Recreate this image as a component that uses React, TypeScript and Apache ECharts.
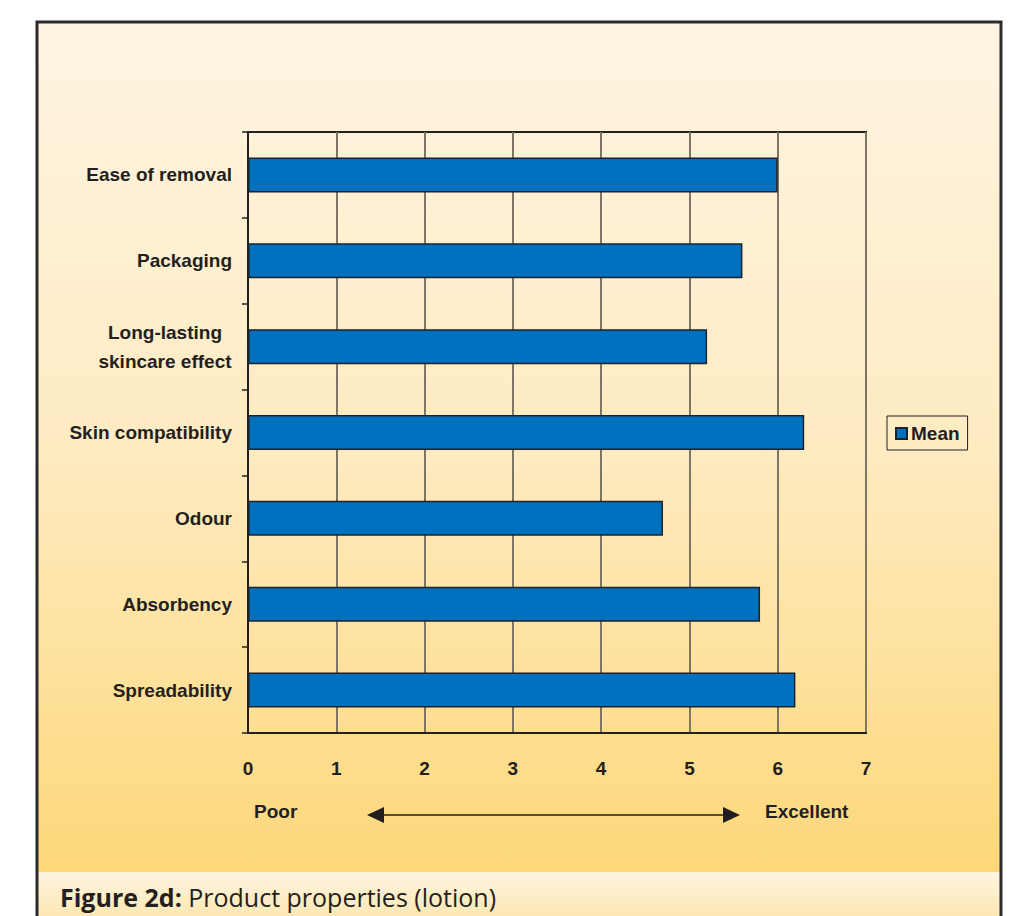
import React, { useEffect, useRef } from "react";
import * as echarts from "echarts";

const categories = [
  "Ease of removal",
  "Packaging",
  "Long-lasting\nskincare effect",
  "Skin compatibility",
  "Odour",
  "Absorbency",
  "Spreadability",
];
const meanValues = [6.0, 5.6, 5.2, 6.3, 4.7, 5.8, 6.2];
const xTicks = [0, 1, 2, 3, 4, 5, 6, 7];
const seriesName = "Mean";
const scaleLow = "Poor";
const scaleHigh = "Excellent";
const captionBold = "Figure 2d:";
const captionText = " Product properties (lotion)";

const FONT = "'Liberation Sans', Arial, sans-serif";
const INK = "#231f20";
const FS = 19;

export default function App() {
  const ref = useRef<HTMLDivElement>(null);
  useEffect(() => {
    if (!ref.current) return;
    const chart = echarts.init(ref.current, null, { renderer: "svg" });
    const option: any = {
      animation: false,
      textStyle: { fontFamily: FONT },
      graphic: [
        {
          type: "rect",
          z: -10,
          silent: true,
          shape: { x: 37, y: 22, width: 964, height: 850 },
          style: {
            fill: new echarts.graphic.LinearGradient(0, 0, 0, 1, [
              { offset: 0, color: "#fef4e2" },
              { offset: 0.5, color: "#feebc2" },
              { offset: 1, color: "#fdd87a" },
            ]),
          },
        },
        {
          type: "rect",
          z: -10,
          silent: true,
          shape: { x: 37, y: 872, width: 964, height: 60 },
          style: {
            fill: new echarts.graphic.LinearGradient(0, 0, 0, 1, [
              { offset: 0, color: "#fef4e0" },
              { offset: 1, color: "#fde3a4" },
            ]),
          },
        },
        {
          type: "rect",
          z: 50,
          silent: true,
          shape: { x: 37, y: 22, width: 964, height: 920 },
          style: { fill: "none", stroke: "#2b2b2b", lineWidth: 3 },
        },
        {
          type: "text",
          left: 254,
          top: 802,
          style: { text: scaleLow, font: `bold ${FS}px ${FONT}`, fill: INK },
        },
        {
          type: "text",
          left: 765,
          top: 802,
          style: { text: scaleHigh, font: `bold ${FS}px ${FONT}`, fill: INK },
        },
        {
          type: "line",
          shape: { x1: 380, y1: 815, x2: 727, y2: 815 },
          style: { stroke: INK, lineWidth: 1.5 },
        },
        {
          type: "polygon",
          shape: { points: [[367, 815], [384, 807], [384, 823]] },
          style: { fill: INK },
        },
        {
          type: "polygon",
          shape: { points: [[740, 815], [723, 807], [723, 823]] },
          style: { fill: INK },
        },
        {
          type: "text",
          left: 60,
          top: 884,
          style: {
            text: "{b|" + captionBold + "}{r|" + captionText + "}",
            rich: {
              b: { font: "bold 25px 'Open Sans', 'Noto Sans', sans-serif", fill: INK },
              r: { font: "25px 'Open Sans', 'Noto Sans', sans-serif", fill: INK },
            },
          },
        },
      ],
      grid: {
        left: 248,
        top: 132,
        width: 618,
        height: 601,
        show: true,
        backgroundColor: "transparent",
        borderColor: INK,
        borderWidth: 2,
      },
      legend: {
        left: 887,
        top: 416,
        orient: "vertical",
        data: [seriesName],
        icon: "rect",
        itemWidth: 11,
        itemHeight: 11,
        itemGap: 0,
        padding: [7, 8, 6, 8],
        borderColor: INK,
        borderWidth: 1,
        borderRadius: 0,
        textStyle: {
          fontFamily: FONT,
          fontWeight: "bold",
          fontSize: FS,
          color: INK,
          lineHeight: 21,
          padding: [0, 0, 0, -1],
        },
      },
      xAxis: {
        type: "value",
        min: 0,
        max: 7,
        interval: 1,
        axisLine: { show: true, lineStyle: { color: INK, width: 2 } },
        axisTick: { show: false },
        axisLabel: {
          margin: 26,
          fontFamily: FONT,
          fontWeight: "bold",
          fontSize: FS,
          color: INK,
          formatter: (v: number) => (xTicks.includes(v) ? String(v) : ""),
        },
        splitLine: { show: true, lineStyle: { color: "#7f7565", width: 2 } },
      },
      yAxis: {
        type: "category",
        data: categories,
        inverse: true,
        axisLine: { show: true, lineStyle: { color: INK, width: 2 } },
        axisTick: { show: true, length: 6, interval: 0, lineStyle: { color: INK, width: 1.5 } },
        axisLabel: {
          margin: 16,
          interval: 0,
          fontFamily: FONT,
          fontWeight: "bold",
          fontSize: FS,
          color: INK,
          lineHeight: 29,
          formatter: (v: string) =>
            v.includes("\n")
              ? v
                  .split("\n")
                  .map((s) => "{c|" + s + "}")
                  .join("\n")
              : v,
          rich: {
            c: {
              width: 134,
              align: "center",
              fontFamily: FONT,
              fontWeight: "bold",
              fontSize: FS,
              color: INK,
              lineHeight: 29,
            },
          },
        },
        splitLine: { show: false },
      },
      series: [
        {
          name: seriesName,
          type: "bar",
          data: meanValues,
          barWidth: 35,
          itemStyle: { color: "#0070bf", borderColor: "#1f2328", borderWidth: 1.5 },
        },
      ],
    };
    chart.setOption(option);
    return () => chart.dispose();
  }, []);
  return (
    <div style={{ position: "absolute", left: 0, top: 0, width: 1022, height: 916, background: "#fff" }}>
      <div ref={ref} style={{ width: 1022, height: 916 }} />
    </div>
  );
}
